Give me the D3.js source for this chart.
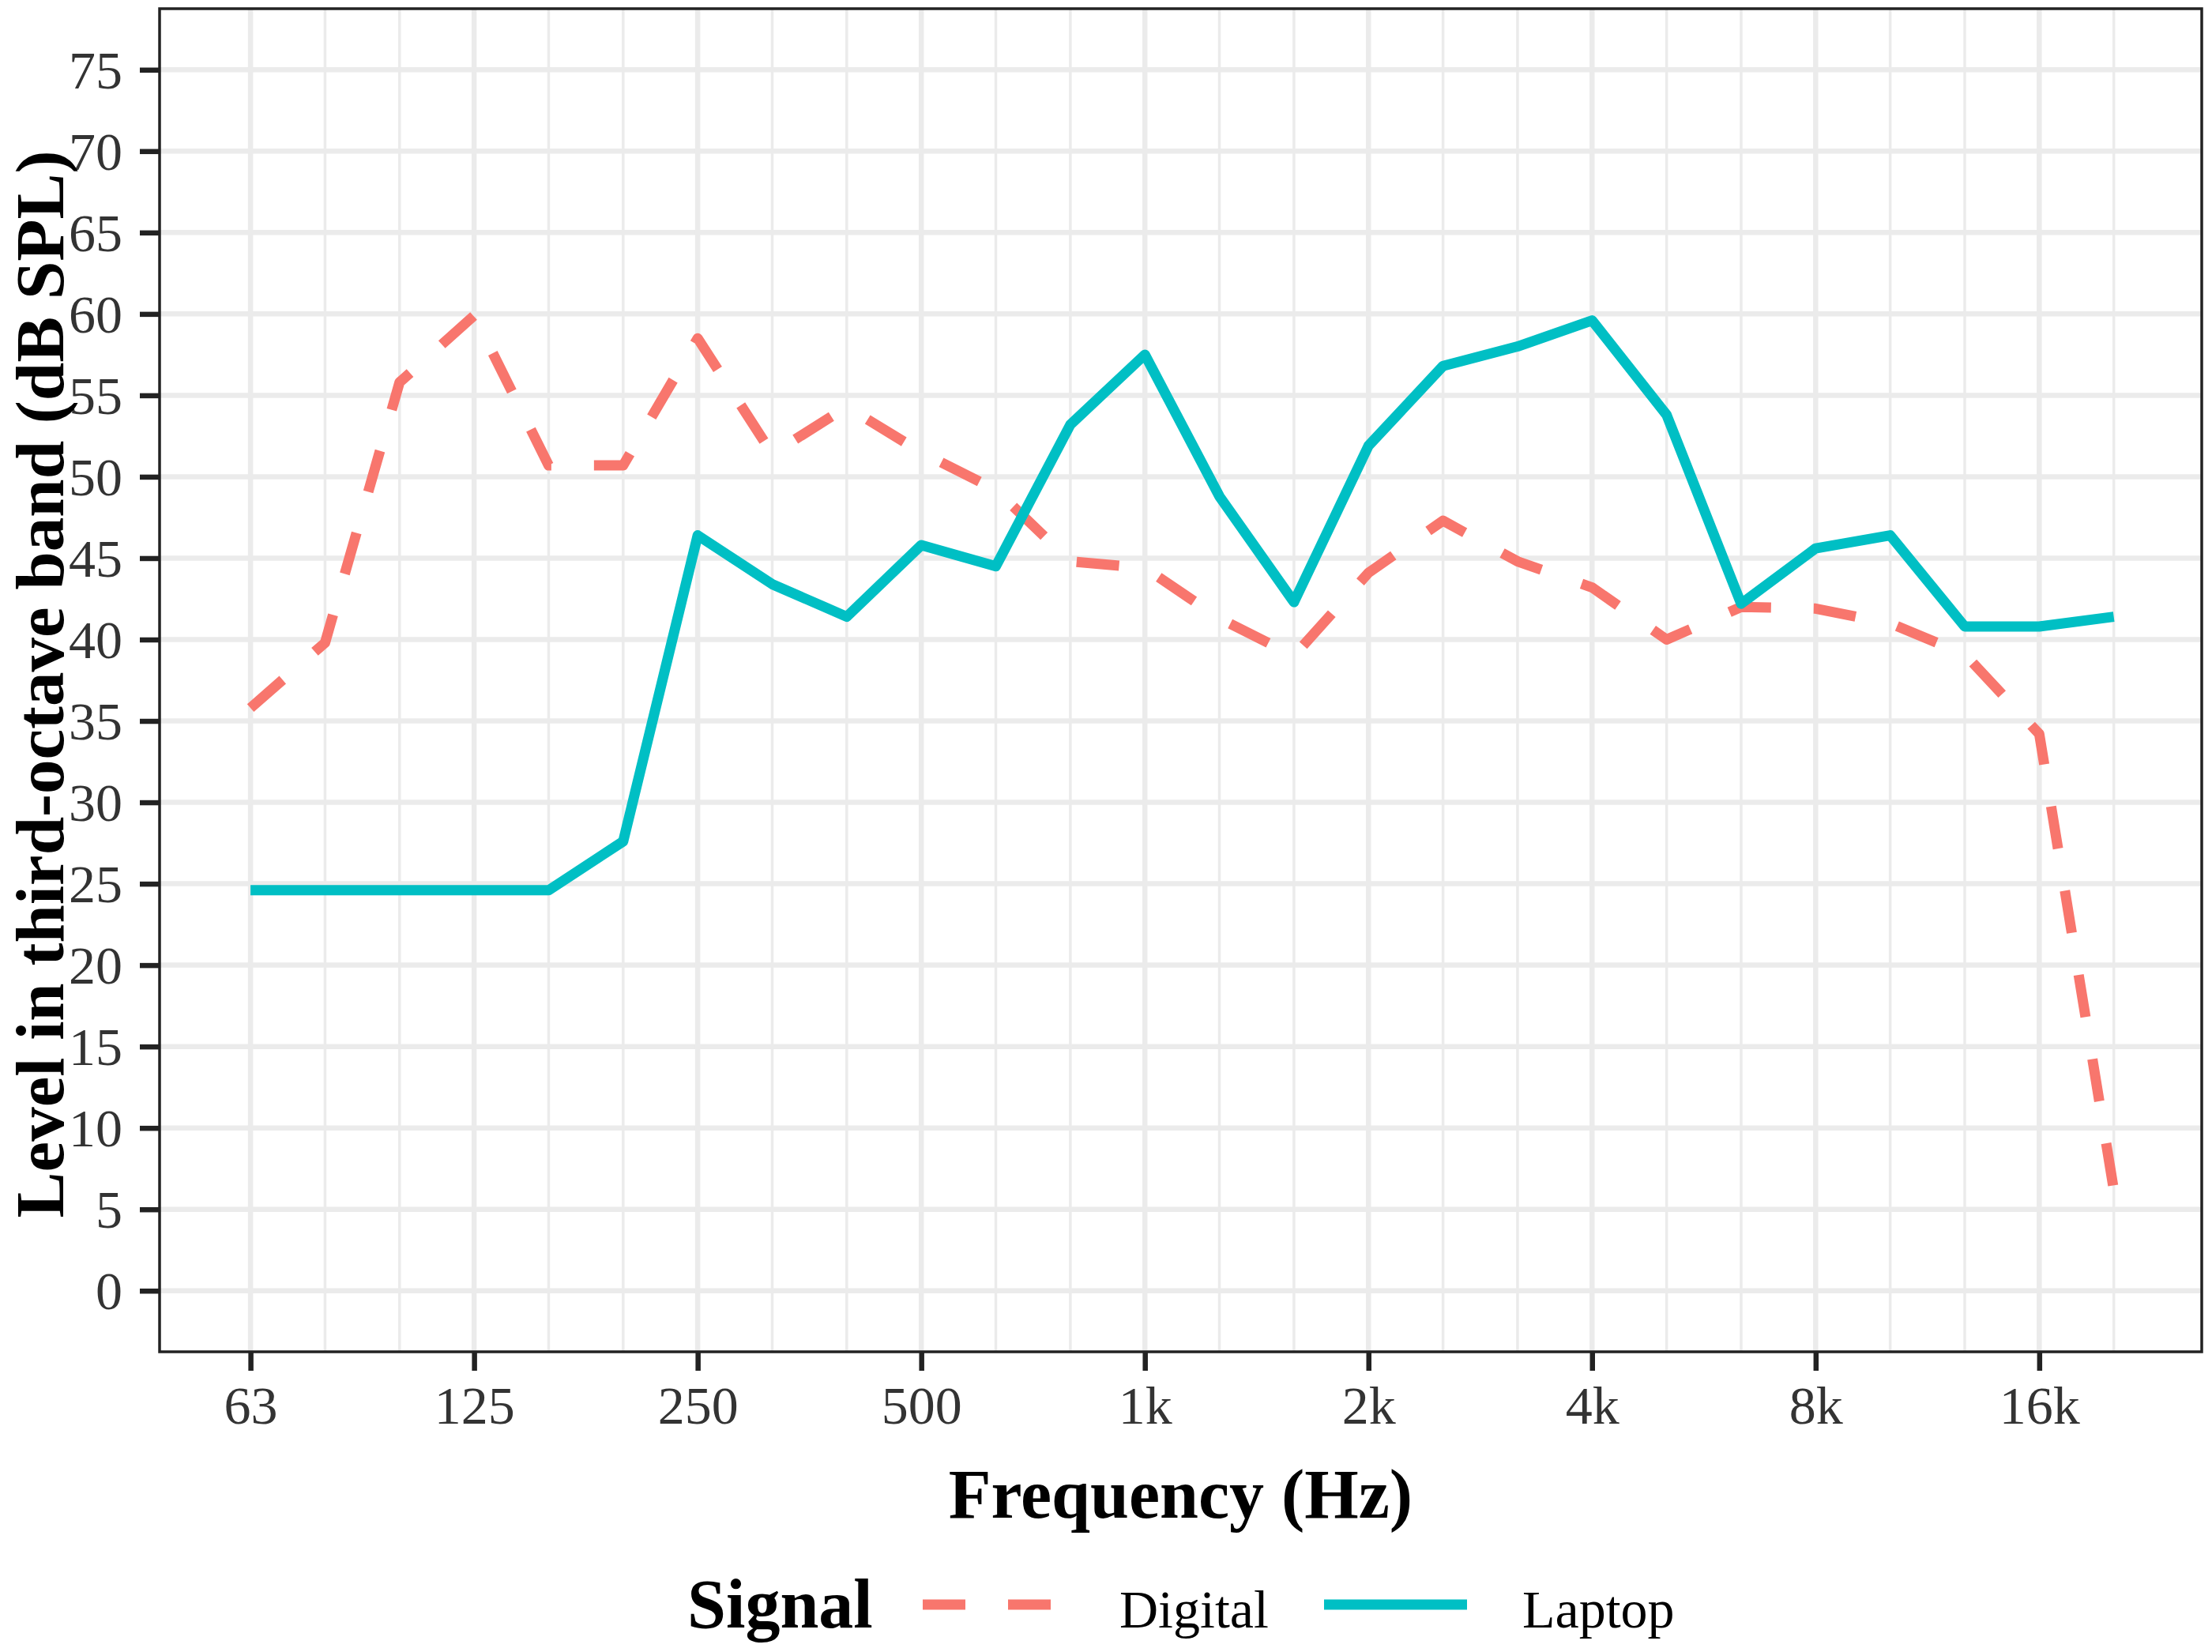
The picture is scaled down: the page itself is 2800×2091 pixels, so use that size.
<!DOCTYPE html>
<html>
<head>
<meta charset="utf-8">
<script src="https://cdn.jsdelivr.net/npm/d3@7"></script>
<style>
  html, body { margin: 0; padding: 0; background: #fff; }
  svg { display: block; }
  text { font-family: "Liberation Serif", "Times New Roman", serif; }
</style>
</head>
<body>
<svg id="chart" width="2800" height="2091"></svg>
<script>
// ---- data ----
const bands = ["63","80","100","125","160","200","250","315","400","500","630","800","1k","1.25k","1.6k","2k","2.5k","3.15k","4k","5k","6.3k","8k","10k","12.5k","16k","20k"];
const xTickLabels = ["63","125","250","500","1k","2k","4k","8k","16k"];
const yTicks = [0,5,10,15,20,25,30,35,40,45,50,55,60,65,70,75];
const seriesNames = ["Digital","Laptop"];
const digital = [35.8, 39.8, 55.8, 59.9, 50.7, 50.7, 58.5, 51.4, 54.3, 51.5, 49.2, 44.8, 44.4, 41.3, 39.0, 44.1, 47.3, 44.8, 43.2, 40.0, 42.0, 41.9, 41.0, 39.1, 34.2, 6.2];
const laptop  = [24.6, 24.6, 24.6, 24.6, 24.6, 27.6, 46.4, 43.4, 41.4, 45.8, 44.5, 53.2, 57.5, 48.8, 42.3, 51.9, 56.8, 58.0, 59.6, 53.8, 42.2, 45.6, 46.4, 40.8, 40.8, 41.4];

// ---- layout ----
const P = { left: 202, right: 2787, top: 11, bottom: 1711 };
const colors = { Digital: "#F8766D", Laptop: "#00BFC4" };
const lineW = 13;

const svg = d3.select("#chart");

const x = d3.scaleLinear().domain([-1.22, bands.length - 1 + 1.18]).range([P.left, P.right]);
const y = d3.scaleLinear().domain([-3.75, 78.75]).range([P.bottom, P.top]);

// panel background
svg.append("rect").attr("x", P.left).attr("y", P.top)
  .attr("width", P.right - P.left).attr("height", P.bottom - P.top).attr("fill", "#fff");

const grid = svg.append("g");
// minor vertical gridlines (every band not labelled)
grid.selectAll("line.vminor").data(bands.map((b, i) => i).filter(i => i % 3 !== 0))
  .enter().append("line")
  .attr("x1", d => x(d)).attr("x2", d => x(d))
  .attr("y1", P.top).attr("y2", P.bottom)
  .attr("stroke", "#EBEBEB").attr("stroke-width", 3.5);
// major horizontal gridlines
grid.selectAll("line.h").data(yTicks).enter().append("line")
  .attr("x1", P.left).attr("x2", P.right)
  .attr("y1", d => y(d)).attr("y2", d => y(d))
  .attr("stroke", "#EBEBEB").attr("stroke-width", 6.5);
// major vertical gridlines
const majorIdx = xTickLabels.map(l => bands.indexOf(l));
grid.selectAll("line.vmajor").data(majorIdx).enter().append("line")
  .attr("x1", d => x(d)).attr("x2", d => x(d))
  .attr("y1", P.top).attr("y2", P.bottom)
  .attr("stroke", "#EBEBEB").attr("stroke-width", 6.5);

// lines
const line = d3.line().x((d, i) => x(i)).y(d => y(d));
const series = [
  { name: "Digital", values: digital, dash: "54,54" },
  { name: "Laptop", values: laptop, dash: null }
];
svg.append("g").selectAll("path").data(series).enter().append("path")
  .attr("d", d => line(d.values))
  .attr("fill", "none")
  .attr("stroke", d => colors[d.name])
  .attr("stroke-width", lineW)
  .attr("stroke-linejoin", "round")
  .attr("stroke-linecap", "butt")
  .attr("stroke-dasharray", d => d.dash);

// panel border
svg.append("rect").attr("x", P.left).attr("y", P.top)
  .attr("width", P.right - P.left).attr("height", P.bottom - P.top)
  .attr("fill", "none").attr("stroke", "#222").attr("stroke-width", 3.5);

// axes
const xAxis = d3.axisBottom(x).tickValues(majorIdx)
  .tickFormat(i => bands[i]).tickSize(24).tickPadding(0);
const gx = svg.append("g").attr("transform", `translate(0,${P.bottom})`).call(xAxis);
gx.select(".domain").remove();
gx.selectAll(".tick line").attr("stroke", "#222").attr("stroke-width", 6.5);
gx.selectAll(".tick text").attr("font-size", 68).attr("fill", "#333")
  .attr("font-family", "Liberation Serif").attr("dy", null).attr("y", 91);

const yAxis = d3.axisLeft(y).tickValues(yTicks).tickSize(25).tickPadding(22);
const gy = svg.append("g").attr("transform", `translate(${P.left},0)`).call(yAxis);
gy.select(".domain").remove();
gy.selectAll(".tick line").attr("stroke", "#222").attr("stroke-width", 6.5);
gy.selectAll(".tick text").attr("font-size", 68).attr("fill", "#333")
  .attr("font-family", "Liberation Serif").attr("dy", "0.34em");

// axis titles
svg.append("text").attr("x", (P.left + P.right) / 2).attr("y", 1921)
  .attr("text-anchor", "middle").attr("font-size", 88).attr("font-weight", "bold")
  .attr("fill", "#000").text("Frequency (Hz)");
svg.append("text").attr("transform", `translate(80,${(P.top + P.bottom) / 2 + 5}) rotate(-90)`)
  .attr("text-anchor", "middle").attr("font-size", 87).attr("font-weight", "bold")
  .attr("fill", "#000").text("Level in third-octave band (dB SPL)");

// legend
const lg = svg.append("g");
const legY = 2031;
lg.append("text").attr("x", 870).attr("y", 2060).attr("font-size", 88)
  .attr("font-weight", "bold").attr("fill", "#000").text("Signal");
const keyX = [1168, 1676];
const textX = [1417, 1927];
series.forEach((s, i) => {
  lg.append("line").attr("x1", keyX[i]).attr("x2", keyX[i] + 181)
    .attr("y1", legY).attr("y2", legY)
    .attr("stroke", colors[s.name]).attr("stroke-width", lineW)
    .attr("stroke-dasharray", s.dash);
  lg.append("text").attr("x", textX[i]).attr("y", 2060).attr("font-size", 68)
    .attr("fill", "#000").text(seriesNames[i]);
});
</script>
</body>
</html>
